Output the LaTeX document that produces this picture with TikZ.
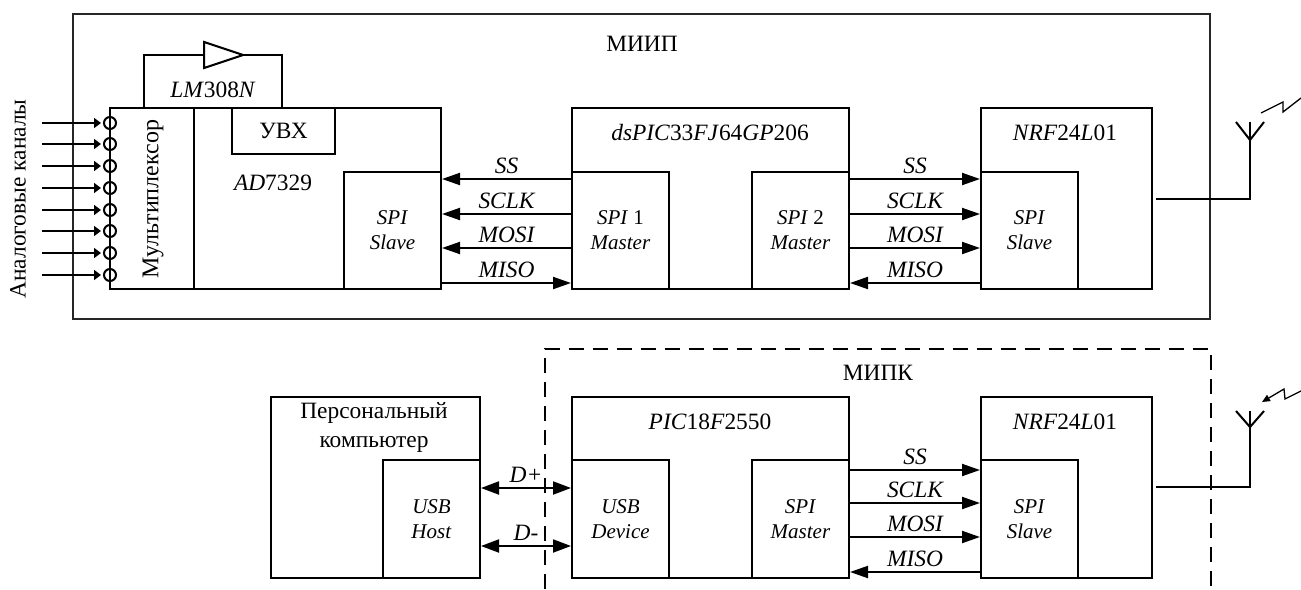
\documentclass[tikz,border=0pt]{standalone}
\usepackage{fontspec}
\setmainfont{Liberation Serif}
\usepackage{tikz}
\usetikzlibrary{arrows.meta, shapes.geometric, calc}

\begin{document}
\begin{tikzpicture}[
        x=1pt, y=-1pt,
        font=\fontsize{23.4}{25}\selectfont,
        blockbox/.style={rectangle, draw=black, line width=2pt, inner sep=0pt, outer sep=0pt, align=center},
        spibox/.style={blockbox, minimum width=97pt, minimum height=117pt, font=\fontsize{21}{25}\selectfont},
        frame/.style={rectangle, draw=black!85, line width=1.3pt, inner sep=0pt, outer sep=0pt},
        caption/.style={inner sep=0pt, align=center},
        signal/.style={line width=2pt, -{Triangle[length=18pt,width=12pt]}, shorten >=1pt},
        inarrow/.style={line width=2pt, -{Triangle[length=7pt,width=10pt]}},
        duplex/.style={line width=2pt, {Triangle[length=18pt,width=13pt]}-{Triangle[length=18pt,width=13pt]}, shorten >=1pt, shorten <=1pt},
        siglabel/.style={midway, above=4pt, inner sep=0pt, font=\fontsize{23.4}{25}\selectfont\itshape},
        pin/.style={circle, draw=black, line width=2pt, minimum size=12pt, inner sep=0pt, outer sep=0pt},
        wire/.style={line width=2pt},
        thinwire/.style={line width=1.3pt}
    ]
        \useasboundingbox (0,0) rectangle (1301,589);

        % upper module
        \node[frame, minimum width=1137pt, minimum height=305pt] (miip) at (641.5,166.5) {};
        \node[caption] (miiplabel) at (642,44) {МИИП};

        \node[blockbox, minimum width=247pt, minimum height=181pt] (adc) at (317.5,198.5) {};
        \node[blockbox, minimum width=84pt, minimum height=181pt] (mux) at (152,198.5) {};
        \node[caption, rotate=90, font=\fontsize{24}{25}\selectfont] (muxlabel) at (153,199) {Мультиплексор};
        \node[blockbox, minimum width=103pt, minimum height=46pt] (uvx) at (283.5,131) {УВХ};
        \node[caption] (adclabel) at (273,183) {\textit{AD}7329};
        \node[spibox] (adcspi) at (392.5,230.5) {\textit{SPI}\\\textit{Slave}};

        \node[blockbox, minimum width=277pt, minimum height=181pt] (dspic) at (710.5,198.5) {};
        \node[caption] (dspiclabel) at (710,133) {\textit{dsPIC}33\textit{FJ}64\textit{GP}206};
        \node[spibox] (spione) at (620.5,230.5) {\textit{SPI} 1\\\textit{Master}};
        \node[spibox] (spitwo) at (800.5,230.5) {\textit{SPI} 2\\\textit{Master}};

        \node[blockbox, minimum width=171pt, minimum height=181pt] (nrfa) at (1066.5,198.5) {};
        \node[caption] (nrfalabel) at (1065,133) {\textit{NRF}24\textit{L}01};
        \node[spibox] (nrfaspi) at (1029.5,230.5) {\textit{SPI}\\\textit{Slave}};

        % lower module
        \coordinate (pkbl) at (545,589);
        \coordinate (pkbr) at (1211,589);
        \coordinate (pktr) at (1211,349);
        \draw[thinwire, dash pattern=on 15pt off 9pt] (pkbl) |- (pktr) -- (pkbr);
        \node[caption] (pklabel) at (878,373) {МИПК};

        \node[blockbox, minimum width=209pt, minimum height=181pt] (pc) at (375.5,487.5) {};
        \node[caption] (pclabel) at (374,427) {Персональный\\[4pt]компьютер};
        \node[spibox, minimum height=118pt] (host) at (431.5,519) {\textit{USB}\\\textit{Host}};

        \node[blockbox, minimum width=277pt, minimum height=181pt] (pic) at (710.5,487.5) {};
        \node[caption] (piclabel) at (710,422) {\textit{PIC}18\textit{F}2550};
        \node[spibox, minimum height=118pt] (device) at (620.5,519) {\textit{USB}\\\textit{Device}};
        \node[spibox, minimum height=118pt] (master) at (800.5,519) {\textit{SPI}\\\textit{Master}};

        \node[blockbox, minimum width=171pt, minimum height=181pt] (nrfb) at (1066.5,487.5) {};
        \node[caption] (nrfblabel) at (1065,422) {\textit{NRF}24\textit{L}01};
        \node[spibox, minimum height=118pt] (nrfbspi) at (1029.5,519) {\textit{SPI}\\\textit{Slave}};

        % analog inputs
        \node[caption, rotate=90] (inlabel) at (18,199) {Аналоговые каналы};
        \foreach \pname/\py in {a/123, b/144, c/166, d/188, e/210, f/231, g/253, h/275} {
            \node[pin] (pin\pname) at (110,\py) {};
            \coordinate (src\pname) at (42,\py);
            \draw[inarrow] (src\pname) -- ([xshift=-3pt]pin\pname.west);
        }

        % follower
        \node[isosceles triangle, isosceles triangle stretches, draw=black, line width=2pt, inner sep=0pt, outer sep=0pt, minimum width=26pt, minimum height=39pt] (amp) at (213.5,55) {};
        \coordinate (ampin) at (144,108);
        \coordinate (ampout) at (282,108);
        \draw[wire] (ampin) |- (amp.west);
        \draw[wire] (amp.east) -| (ampout);
        \node[caption] (amplabel) at (213,90) {\textit{LM}308\textit{N}};

        % SPI buses
        \draw[signal] ([yshift=51.5pt]spione.west) -- node[siglabel] (ssa) {SS} ([yshift=51.5pt]adcspi.east);
        \draw[signal] ([yshift=16.5pt]spione.west) -- node[siglabel] (sclka) {SCLK} ([yshift=16.5pt]adcspi.east);
        \draw[signal] ([yshift=-17.5pt]spione.west) -- node[siglabel] (mosia) {MOSI} ([yshift=-17.5pt]adcspi.east);
        \draw[signal] ([yshift=-52.5pt]adcspi.east) -- node[siglabel] (misoa) {MISO} ([yshift=-52.5pt]spione.west);

        \draw[signal] ([yshift=51.5pt]spitwo.east) -- node[siglabel] (ssb) {SS} ([yshift=51.5pt]nrfaspi.west);
        \draw[signal] ([yshift=16.5pt]spitwo.east) -- node[siglabel] (sclkb) {SCLK} ([yshift=16.5pt]nrfaspi.west);
        \draw[signal] ([yshift=-17.5pt]spitwo.east) -- node[siglabel] (mosib) {MOSI} ([yshift=-17.5pt]nrfaspi.west);
        \draw[signal] ([yshift=-52.5pt]nrfaspi.west) -- node[siglabel] (misob) {MISO} ([yshift=-52.5pt]spitwo.east);

        \draw[signal] ([yshift=49pt]master.east) -- node[siglabel] (ssc) {SS} ([yshift=49pt]nrfbspi.west);
        \draw[signal] ([yshift=16pt]master.east) -- node[siglabel] (sclkc) {SCLK} ([yshift=16pt]nrfbspi.west);
        \draw[signal] ([yshift=-18pt]master.east) -- node[siglabel] (mosic) {MOSI} ([yshift=-18pt]nrfbspi.west);
        \draw[signal] ([yshift=-53pt]nrfbspi.west) -- node[siglabel] (misoc) {MISO} ([yshift=-53pt]master.east);

        % USB
        \draw[duplex] ([yshift=31pt]host.east) -- node[siglabel] (dplus) {D+} ([yshift=31pt]device.west);
        \draw[duplex] ([yshift=-27pt]host.east) -- node[siglabel] (dminus) {D-} ([yshift=-27pt]device.west);

        % antennas
        \coordinate (antafoot) at (1250,199);
        \coordinate (antatop) at (1250,122);
        \coordinate (antabase) at (1250,140);
        \coordinate (antaleft) at (1236,122);
        \coordinate (antaright) at (1264,122);
        \coordinate (zaa) at (1261,113);
        \coordinate (zab) at (1283,102);
        \coordinate (zac) at (1283,112);
        \coordinate (zad) at (1301,98);
        \draw[wire] ([xshift=4pt]nrfa.east |- antafoot) -- (antafoot) -- (antatop);
        \draw[wire] (antaleft) -- (antabase) -- (antaright);
        \draw[thinwire] (zaa) -- (zab) -- (zac) -- (zad);

        \coordinate (antbfoot) at (1250,487);
        \coordinate (antbtop) at (1250,411);
        \coordinate (antbbase) at (1250,427);
        \coordinate (antbleft) at (1236,411);
        \coordinate (antbright) at (1264,411);
        \coordinate (zba) at (1262,402);
        \coordinate (zbb) at (1284,389);
        \coordinate (zbc) at (1285,399);
        \coordinate (zbd) at (1301,391);
        \draw[wire] ([xshift=4pt]nrfb.east |- antbfoot) -- (antbfoot) -- (antbtop);
        \draw[wire] (antbleft) -- (antbbase) -- (antbright);
        \draw[thinwire, {Triangle[length=8pt,width=7pt]}-] (zba) -- (zbb) -- (zbc) -- (zbd);
    \end{tikzpicture}
\end{document}
